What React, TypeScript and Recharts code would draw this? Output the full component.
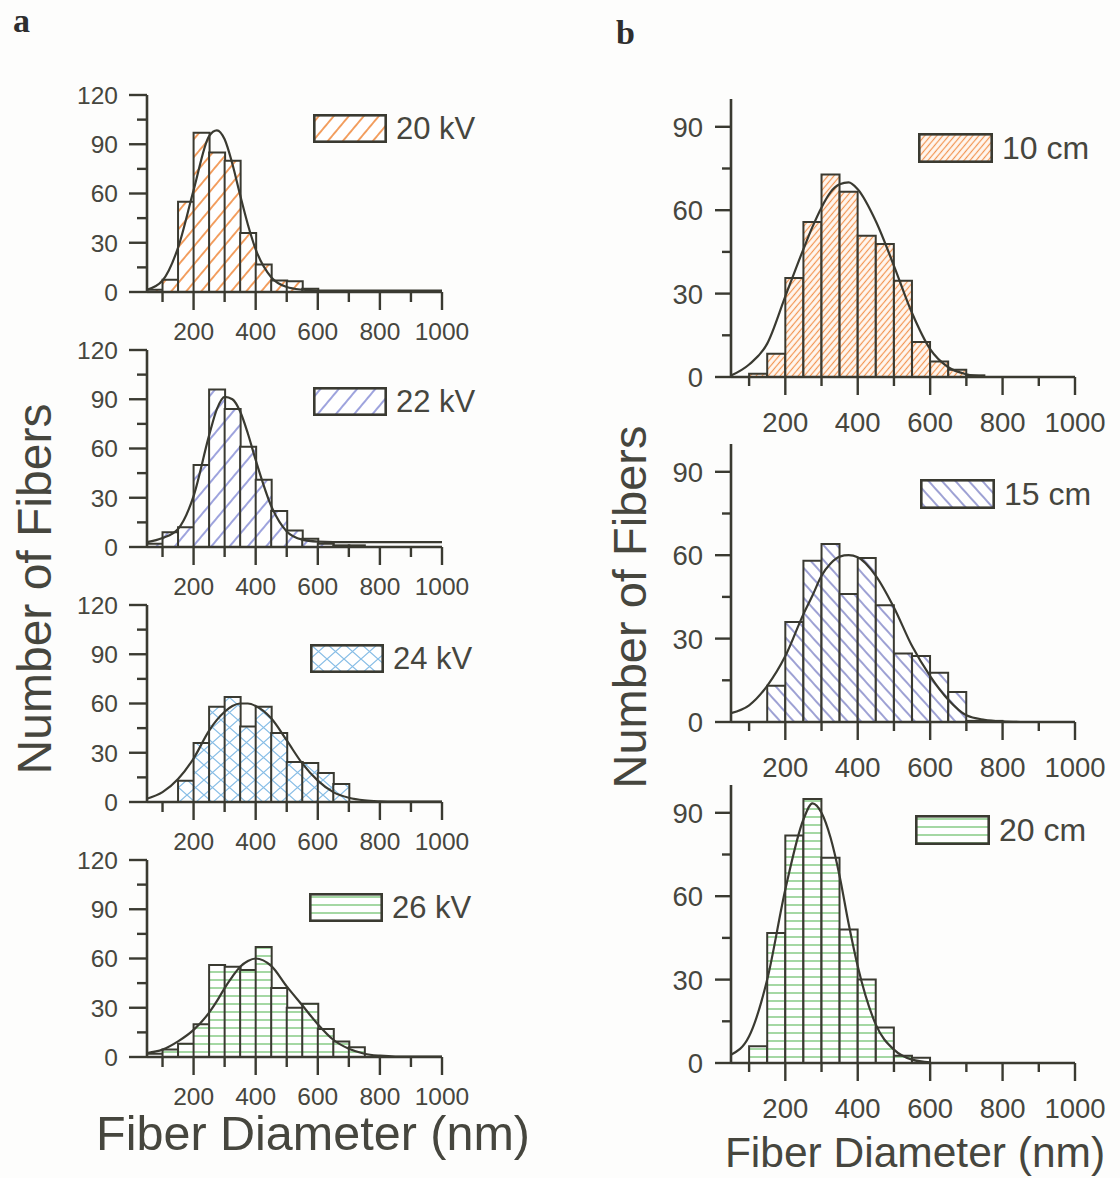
import React from "react";
import { ComposedChart, Bar, Line, XAxis, YAxis } from "recharts";

// histogram bins are 50 nm wide, centred here
const binCenters = [75, 125, 175, 225, 275, 325, 375, 425, 475, 525, 575, 625, 675, 725, 775, 825, 875, 925, 975];

const fitX = [50, 100, 150, 200, 250, 275, 300, 325, 350, 375, 400, 450, 500, 550, 600, 650, 700, 750, 800, 850, 900, 950, 1000];

const xTicks = [100, 200, 300, 400, 500, 600, 700, 800, 900, 1000];
const yTicksLeft = [0, 15, 30, 45, 60, 75, 90, 105, 120];
const yTicksRight = [0, 15, 30, 45, 60, 75, 90];

// (a) voltage series
const count20kV = [1.4, 7.5, 55, 97, 85, 80, 36, 16.7, 7, 6.5, 2, 0, 0, 0, 0, 0, 0, 0, 0];
const fit20kV = [1.4, 7, 27, 62, 95, 98.5, 93, 78, 59, 41, 26, 9, 3, 1.4, 0.9, 0.8, 0.8, 0.8, 0.8, 0.8, 0.8, 0.8, 0.8];

const count22kV = [2, 9, 12, 50, 96, 84, 61, 41, 22, 10, 5, 2, 1, 1, 0, 0, 0, 0, 0];
const fit22kV = [3, 5.5, 11, 31, 68, 84, 91.5, 90, 82.5, 69, 53, 25, 9.5, 4.5, 3.3, 3, 3, 3, 3, 3, 3, 3, 3];

const count24kV = [0, 0, 13, 36, 58, 64, 46, 58, 42, 24.4, 23.8, 17.7, 11, 0, 0, 0, 0, 0, 0];
const fit24kV = [2, 6, 14, 26.5, 43.5, 50, 55, 58.5, 60, 60, 58.5, 51, 37.5, 23.5, 13, 6, 2.6, 1, 0.4, 0.2, 0.2, 0.2, 0.2];

const count26kV = [2, 4.5, 8, 20, 56, 55, 53, 67, 42, 30, 32.4, 17, 9.5, 6, 0, 0, 0, 0, 0];
const fit26kV = [2.4, 4.5, 9.5, 16.5, 27, 34, 42, 49, 55, 58.5, 60, 55.5, 43, 31.5, 20, 10.5, 5, 2, 0.8, 0.3, 0.3, 0.3, 0.3];

// (b) distance series
const count10cm = [0, 1.2, 8.4, 35.6, 55.8, 72.8, 66.6, 50.8, 47.8, 34.6, 12.6, 5.6, 2.6, 0.6, 0, 0, 0, 0, 0];
const fit10cm = [0.5, 4.5, 12, 29, 46, 54, 61, 66.5, 69.3, 70, 67.5, 56, 40, 23, 10, 3.5, 1, 0.2];

const count15cm = [0, 0, 13, 36, 58, 64, 46, 59, 42, 24.6, 23.7, 17.7, 10.8, 0.4, 0.4, 0, 0, 0, 0];
const fit15cm = [3.2, 6, 13, 23.7, 38.8, 45.5, 52.6, 57, 59.5, 60, 59.3, 52.6, 41.2, 27.3, 16.5, 8, 2.4, 0.8, 0.2, 0];

const count20cm = [0, 6, 46.8, 81.8, 95, 73.8, 48, 30, 12.8, 2.6, 1.9, 0, 0, 0, 0, 0, 0, 0, 0];
const fit20cm = [3, 9.6, 30, 62.4, 87.6, 93.4, 90, 81, 67.2, 50, 34.8, 13.8, 4.8, 1.2, 0.2];

const AXIS = "#3a3a31";
const TEXT = "#46463e";
const FONT = "'Liberation Sans', Arial, Helvetica, sans-serif";

const LEFT = {
  w: 500, h: 290, mt: 20, mr: 58, mb: 25, yw: 147, xh: 48, yMax: 120, yTicks: yTicksLeft,
  font: 24.5, xMajor: 18, xMinor: 10, xLabelDy: 48, yMajor: 18, yMinor: 10, yLabelDx: 29,
  box: [74, 29], legendFont: 31,
};
const RIGHT = {
  w: 520, h: 375, mt: 20, mr: 45, mb: 25, yw: 131, xh: 52, yMax: 100, yTicks: yTicksRight,
  font: 27.5, xMajor: 18, xMinor: 9, xLabelDy: 55, yMajor: 16, yMinor: 9, yLabelDx: 28,
  box: [75, 30], legendFont: 32,
};

function Hatch({ id, kind }: { id: string; kind: string }) {
  if (kind === "orange") {
    return (
      <pattern id={id} width={11.5} height={11.5} patternUnits="userSpaceOnUse" patternTransform="rotate(40)">
        <rect width={11.5} height={11.5} fill="#fff" />
        <line x1={5.75} y1={0} x2={5.75} y2={11.5} stroke="#f08a3e" strokeWidth={1.6} />
      </pattern>
    );
  }
  if (kind === "orangeDense") {
    return (
      <pattern id={id} width={4.6} height={4.6} patternUnits="userSpaceOnUse" patternTransform="rotate(40)">
        <rect width={4.6} height={4.6} fill="#fff7f0" />
        <line x1={2.3} y1={0} x2={2.3} y2={4.6} stroke="#f29552" strokeWidth={1.2} />
      </pattern>
    );
  }
  if (kind === "blueFwd") {
    return (
      <pattern id={id} width={14} height={14} patternUnits="userSpaceOnUse" patternTransform="rotate(40)">
        <rect width={14} height={14} fill="#fff" />
        <line x1={7} y1={0} x2={7} y2={14} stroke="#6a72cc" strokeWidth={1.3} />
      </pattern>
    );
  }
  if (kind === "blueBack") {
    return (
      <pattern id={id} width={10} height={10} patternUnits="userSpaceOnUse" patternTransform="rotate(-42)">
        <rect width={10} height={10} fill="#fff" />
        <line x1={5} y1={0} x2={5} y2={10} stroke="#5d63b8" strokeWidth={1.2} />
      </pattern>
    );
  }
  if (kind === "cross") {
    return (
      <pattern id={id} width={17} height={15} patternUnits="userSpaceOnUse">
        <rect width={17} height={15} fill="#fff" />
        <path d="M0,0 L17,15 M17,0 L0,15" stroke="#86bde6" strokeWidth={1.2} fill="none" />
      </pattern>
    );
  }
  return (
    <pattern id={id} width={10} height={8} patternUnits="userSpaceOnUse">
      <rect width={10} height={8} fill="#fff" />
      <line x1={0} y1={4} x2={10} y2={4} stroke="#5cb85a" strokeWidth={1.1} />
    </pattern>
  );
}

function makeXTick(g: any) {
  return (props: any) => {
    const { x, y, payload } = props;
    const v = payload.value;
    const major = v % 200 === 0;
    return (
      <g>
        <line x1={x} x2={x} y1={y} y2={y + (major ? g.xMajor : g.xMinor)} stroke={AXIS} strokeWidth={2.4} />
        {major && (
          <text x={x} y={y + g.xLabelDy} textAnchor="middle" fontSize={g.font} fill={TEXT} fontFamily={FONT}>
            {v}
          </text>
        )}
      </g>
    );
  };
}

function makeYTick(g: any) {
  return (props: any) => {
    const { x, y, payload } = props;
    const v = payload.value;
    const major = v % 30 === 0;
    return (
      <g>
        <line x1={x} x2={x - (major ? g.yMajor : g.yMinor)} y1={y} y2={y} stroke={AXIS} strokeWidth={2.4} />
        {major && (
          <text x={x - g.yLabelDx} y={y} dy="0.36em" textAnchor="end" fontSize={g.font} fill={TEXT} fontFamily={FONT}>
            {v}
          </text>
        )}
      </g>
    );
  };
}

type PanelCfg = {
  id: string;
  label: string;
  counts: number[];
  fit: number[];
  hatch: string;
  left: number;
  top: number;
  legend: [number, number];
};

function Panel({ cfg, g }: { cfg: PanelCfg; g: any }) {
  const barData = binCenters.map((x, i) => ({ x, count: cfg.counts[i] }));
  const fitData = cfg.fit.map((v, i) => ({ x: fitX[i], fit: v }));
  const patId = `pat-${cfg.id}`;
  return (
    <>
      <div style={{ position: "absolute", left: cfg.left, top: cfg.top }}>
        <ComposedChart
          width={g.w}
          height={g.h}
          data={barData}
          margin={{ top: g.mt, right: g.mr, left: g.yw, bottom: g.xh + g.mb }}
          barCategoryGap={0}
          barGap={0}
        >
          <defs>
            <Hatch id={patId} kind={cfg.hatch} />
          </defs>
          <XAxis dataKey="x" type="number" domain={[50, 1000]} hide />
          <YAxis type="number" domain={[0, g.yMax]} hide />
          <Bar dataKey="count" fill={`url(#${patId})`} stroke={AXIS} strokeWidth={2} isAnimationActive={false} />
        </ComposedChart>
      </div>
      <div style={{ position: "absolute", left: cfg.left, top: cfg.top }}>
        <ComposedChart width={g.w} height={g.h} data={fitData} margin={{ top: g.mt, right: g.mr, left: 0, bottom: g.mb }}>
          <XAxis
            dataKey="x"
            type="number"
            domain={[50, 1000]}
            ticks={xTicks}
            interval={0}
            height={g.xh}
            tickSize={0}
            tickMargin={0}
            tickLine={false}
            tick={makeXTick(g)}
            axisLine={{ stroke: AXIS, strokeWidth: 2.6 }}
          />
          <YAxis
            type="number"
            domain={[0, g.yMax]}
            ticks={g.yTicks}
            interval={0}
            width={g.yw}
            tickSize={0}
            tickMargin={0}
            tickLine={false}
            tick={makeYTick(g)}
            axisLine={{ stroke: AXIS, strokeWidth: 2.6 }}
          />
          <Line
            type="monotone"
            dataKey="fit"
            stroke={AXIS}
            strokeWidth={2.2}
            dot={false}
            isAnimationActive={false}
          />
        </ComposedChart>
      </div>
      <div
        style={{
          position: "absolute",
          left: cfg.legend[0],
          top: cfg.legend[1],
          height: g.box[1],
          display: "flex",
          alignItems: "center",
          whiteSpace: "nowrap",
        }}
      >
        <svg width={g.box[0]} height={g.box[1]} style={{ display: "block" }}>
          <defs>
            <Hatch id={`${patId}-lg`} kind={cfg.hatch} />
          </defs>
          <rect x={1.3} y={1.3} width={g.box[0] - 2.6} height={g.box[1] - 2.6} fill={`url(#${patId}-lg)`} stroke={AXIS} strokeWidth={2.6} />
        </svg>
        <span style={{ marginLeft: 9, fontFamily: FONT, fontSize: g.legendFont, color: TEXT, lineHeight: 1 }}>{cfg.label}</span>
      </div>
    </>
  );
}

const leftPanels: PanelCfg[] = [
  { id: "kv20", label: "20 kV", counts: count20kV, fit: fit20kV, hatch: "orange", left: 0, top: 75, legend: [313, 114] },
  { id: "kv22", label: "22 kV", counts: count22kV, fit: fit22kV, hatch: "blueFwd", left: 0, top: 330, legend: [313, 387] },
  { id: "kv24", label: "24 kV", counts: count24kV, fit: fit24kV, hatch: "cross", left: 0, top: 585, legend: [310, 644] },
  { id: "kv26", label: "26 kV", counts: count26kV, fit: fit26kV, hatch: "green", left: 0, top: 840, legend: [309, 893] },
];

const rightPanels: PanelCfg[] = [
  { id: "cm10", label: "10 cm", counts: count10cm, fit: fit10cm, hatch: "orangeDense", left: 600, top: 79, legend: [918, 133] },
  { id: "cm15", label: "15 cm", counts: count15cm, fit: fit15cm, hatch: "blueBack", left: 600, top: 424, legend: [920, 479] },
  { id: "cm20", label: "20 cm", counts: count20cm, fit: fit20cm, hatch: "green", left: 600, top: 765, legend: [915, 815] },
];

function Label({ text, x, y, size, rotate }: { text: string; x: number; y: number; size: number; rotate?: boolean }) {
  return (
    <div
      style={{
        position: "absolute",
        left: x,
        top: y,
        transform: `translate(-50%, -50%)${rotate ? " rotate(-90deg)" : ""}`,
        fontFamily: FONT,
        fontSize: size,
        color: TEXT,
        whiteSpace: "nowrap",
        lineHeight: 0.85,
      }}
    >
      {text}
    </div>
  );
}

export default function App() {
  return (
    <div style={{ position: "absolute", left: 0, top: 0, width: 1120, height: 1178, background: "#fdfdfc", overflow: "hidden" }}>
      <div style={{ position: "absolute", left: 13, top: 2, fontFamily: "'Liberation Serif', 'Times New Roman', serif", fontWeight: 700, fontSize: 34, color: "#2e2e2e" }}>a</div>
      <div style={{ position: "absolute", left: 616, top: 14, fontFamily: "'Liberation Serif', 'Times New Roman', serif", fontWeight: 700, fontSize: 34, color: "#2e2e2e" }}>b</div>

      {leftPanels.map((p) => (
        <Panel key={p.id} cfg={p} g={LEFT} />
      ))}
      {rightPanels.map((p) => (
        <Panel key={p.id} cfg={p} g={RIGHT} />
      ))}

      <Label text="Number of Fibers" x={35} y={589} size={48} rotate />
      <Label text="Number of Fibers" x={630} y={607} size={47} rotate />
      <Label text="Fiber Diameter (nm)" x={313} y={1134} size={48.5} />
      <Label text="Fiber Diameter (nm)" x={915} y={1153} size={42.5} />
    </div>
  );
}
